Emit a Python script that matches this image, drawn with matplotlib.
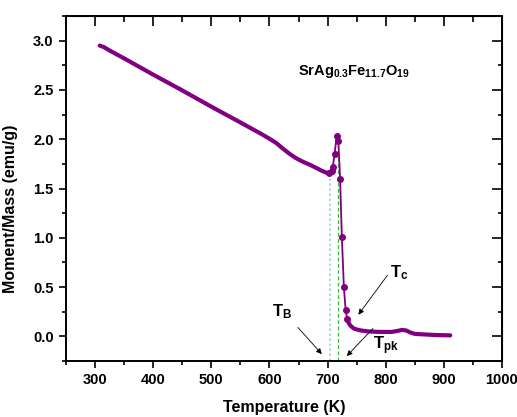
import matplotlib.pyplot as plt
import numpy as np
from matplotlib.ticker import MultipleLocator

plt.rcParams['font.family'] = ['Liberation Sans', 'DejaVu Sans']
plt.rcParams['font.weight'] = 'bold'
plt.rcParams['mathtext.fontset'] = 'custom'
plt.rcParams['mathtext.rm'] = 'Liberation Sans:bold'
plt.rcParams['mathtext.bf'] = 'Liberation Sans:bold'
plt.rcParams['mathtext.it'] = 'Liberation Sans:bold'

# Data: dense part (below the blocking peak)
temp_low = [308, 315, 325, 350, 400, 450, 500, 550, 584, 600, 612, 622, 635,
            645, 658, 670, 680, 690, 698, 703]
mom_low = [2.95, 2.935, 2.90, 2.82, 2.655, 2.495, 2.33, 2.17, 2.06, 2.005, 1.96,
           1.91, 1.85, 1.81, 1.77, 1.74, 1.71, 1.68, 1.66, 1.66]

# sparse points through the peak and the Curie drop
temp_tr = [703, 707, 709, 712, 715.5, 718.5, 721.5, 724.5, 728, 731, 733.5]
mom_tr = [1.66, 1.68, 1.72, 1.85, 2.03, 1.98, 1.60, 1.01, 0.50, 0.27, 0.18]

# dense tail above Tc
temp_hi = [733.5, 736, 739, 745, 750, 757, 770, 790, 810, 820, 828, 835, 842,
           850, 865, 880, 895, 911]
mom_hi = [0.18, 0.14, 0.11, 0.08, 0.07, 0.06, 0.05, 0.045, 0.045, 0.055, 0.065,
          0.06, 0.04, 0.025, 0.02, 0.015, 0.012, 0.01]

t_block = 704
m_block = 1.66
t_curie = 718.6
m_curie = 1.98

purple = '#800080'

fig = plt.figure(figsize=(5.17, 4.17), dpi=100)
ax = fig.add_axes([66 / 517, 56 / 417, 436 / 517, 345 / 417])

ax.vlines(t_block, -0.25, m_block, colors='#8fd8e0', linestyles=(0, (1.5, 1.5)), lw=1.2)
ax.vlines(t_curie, -0.25, m_curie, colors='#33bb33', linestyles=(0, (3, 2)), lw=0.9)

ax.plot(temp_low, mom_low, color=purple, lw=3.0, solid_capstyle='round', solid_joinstyle='round')
ax.plot(temp_hi, mom_hi, color=purple, lw=3.0, solid_capstyle='round', solid_joinstyle='round')
ax.plot(temp_tr, mom_tr, color=purple, lw=1.3, marker='o', ms=4)

ax.set_xlim(250, 1000)
ax.set_ylim(-0.25, 3.25)
ax.xaxis.set_major_locator(MultipleLocator(100))
ax.xaxis.set_minor_locator(MultipleLocator(50))
ax.yaxis.set_major_locator(MultipleLocator(0.5))
ax.yaxis.set_minor_locator(MultipleLocator(0.25))
ax.yaxis.set_major_formatter(plt.FormatStrFormatter('%.1f'))

ax.tick_params(which='major', direction='out', length=5, width=1.2, labelsize=10.5, pad=4)
ax.tick_params(which='minor', direction='out', length=3, width=1.2)
for lbl in ax.get_xticklabels() + ax.get_yticklabels():
    lbl.set_fontweight('bold')
for sp in ax.spines.values():
    sp.set_linewidth(1.4)

# mirrored ticks on top and right pointing inward
top = ax.secondary_xaxis('top')
top.xaxis.set_major_locator(MultipleLocator(100))
top.xaxis.set_minor_locator(MultipleLocator(50))
top.tick_params(which='major', direction='in', length=7, width=1.2, labeltop=False)
top.tick_params(which='minor', direction='in', length=4, width=1.2)
right = ax.secondary_yaxis('right')
right.yaxis.set_major_locator(MultipleLocator(0.5))
right.yaxis.set_minor_locator(MultipleLocator(0.25))
right.tick_params(which='major', direction='in', length=7, width=1.2, labelright=False)
right.tick_params(which='minor', direction='in', length=3, width=1.2)

ax.set_xlabel('Temperature (K)', fontsize=11.5, fontweight='bold', labelpad=9)
ax.set_ylabel('Moment/Mass (emu/g)', fontsize=11.5, fontweight='bold')
ax.yaxis.set_label_coords(-0.11, 0.44)

ax.text(649, 2.69, r'$\mathbf{SrAg_{0.3}Fe_{11.7}O_{19}}$', fontsize=10.5, va='center', ha='left')

arrow = dict(arrowstyle='-|>', color='black', lw=0.6, mutation_scale=8, shrinkA=0, shrinkB=0)
ax.text(823, 0.65, r'$\mathbf{T_c}$', fontsize=12, ha='center', va='center')
ax.annotate('', xy=(753, 0.22), xytext=(803, 0.62), arrowprops=arrow)
ax.text(621, 0.25, r'$\mathbf{T_B}$', fontsize=12, ha='center', va='center')
ax.annotate('', xy=(690, -0.18), xytext=(649, 0.09), arrowprops=arrow)
ax.text(800, -0.09, r'$\mathbf{T_{pk}}$', fontsize=12, ha='center', va='center')
ax.annotate('', xy=(733, -0.20), xytext=(778, 0.08), arrowprops=arrow)

fig.savefig('out.png', dpi=100)
